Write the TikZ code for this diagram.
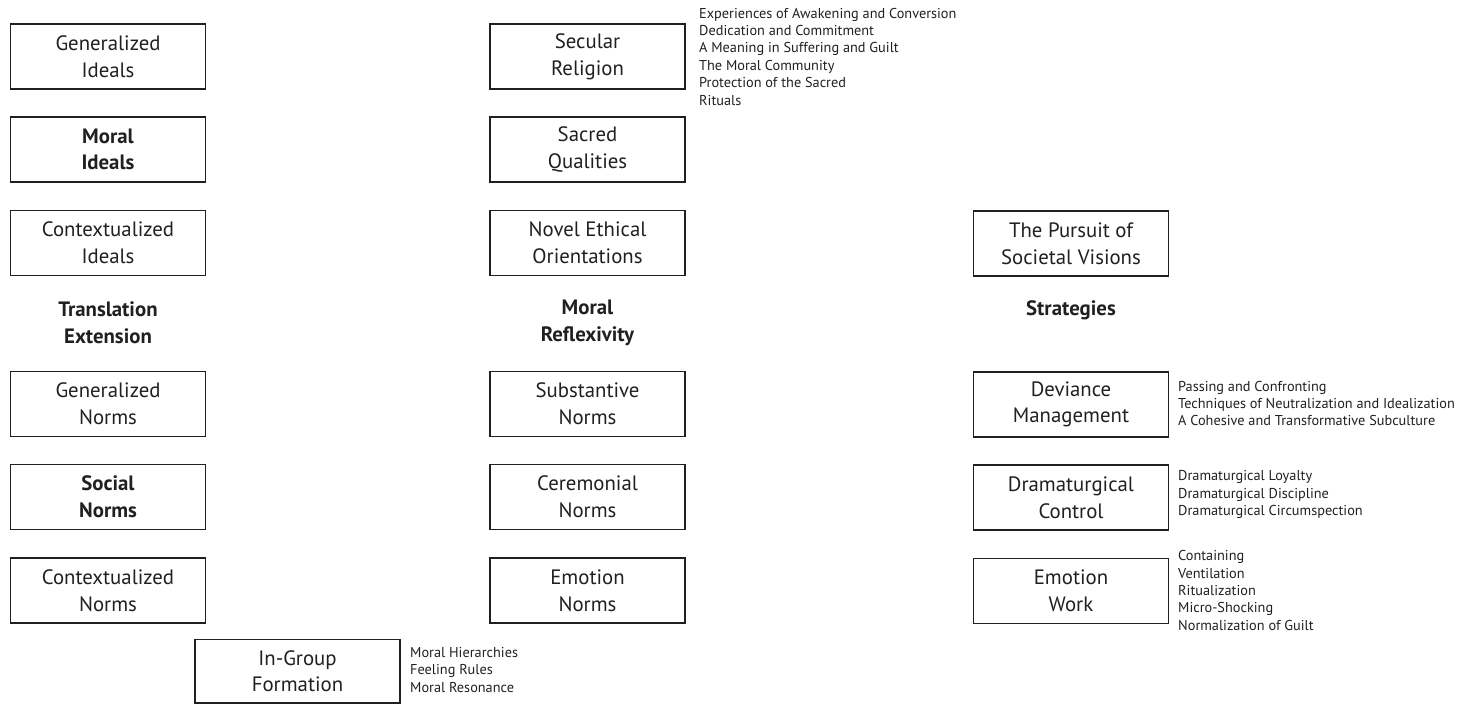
\documentclass[tikz,border=0pt]{standalone}
\usepackage{fontspec}
\setmainfont{PT Sans}
\definecolor{ink}{HTML}{231F20}
\begin{document}
\begin{tikzpicture}[x=1pt,y=-1pt,
  box/.style={draw=ink, line width=1.2pt, minimum width=195pt, minimum height=65pt,
    inner sep=0pt, align=center, text=ink,
    font=\fontsize{20.8}{26.6}\selectfont},
  head/.style={align=center, text=ink, font=\fontsize{20.8}{26.6}\selectfont\bfseries},
  list/.style={anchor=west, align=left, inner sep=0pt, text=ink,
    font=\fontsize{14.3}{17.4}\selectfont}]
\useasboundingbox (0,0) rectangle (1470,704);

% left column
\node[box] (gi) at (108,56.5) {Generalized\\Ideals};
\node[box] (mi) at (108,149.5) {\bfseries Moral\\\bfseries Ideals};
\node[box] (ci) at (108,243) {Contextualized\\Ideals};
\node[head] (te) at (108,323) {Translation\\Extension};
\node[box] (gn) at (108,404) {Generalized\\Norms};
\node[box] (sn) at (108,497) {\bfseries Social\\\bfseries Norms};
\node[box] (cn) at (108,590.5) {Contextualized\\Norms};
\node[box, minimum width=205pt, minimum height=63.5pt] (ig) at (297.5,671.2) {In-Group\\Formation};

% middle column
\node[box] (sr) at (587.5,56.5) {Secular\\Religion};
\node[box] (sq) at (587.5,149.5) {Sacred\\Qualities};
\node[box] (neo) at (587.5,243) {Novel Ethical\\Orientations};
\node[head] (mr) at (587.5,323) {Moral\\Reflexivity};
\node[box] (stn) at (587.5,404) {Substantive\\Norms};
\node[box] (ceN) at (587.5,497) {Ceremonial\\Norms};
\node[box] (en) at (587.5,590.5) {Emotion\\Norms};

% right column
\node[box] (psv) at (1071,243.5) {The Pursuit of\\Societal Visions};
\node[head] (st) at (1071,310) {Strategies};
\node[box] (dm) at (1071,404.5) {Deviance\\Management};
\node[box] (dc) at (1071,497.5) {Dramaturgical\\Control};
\node[box] (ew) at (1071,591) {Emotion\\Work};

% item lists beside the boxes
\node[list] (srl) at (699,56.5) {Experiences of Awakening and Conversion\\Dedication and Commitment\\A Meaning in Suffering and Guilt\\The Moral Community\\Protection of the Sacred\\Rituals};
\node[list] (dml) at (1178,403.5) {Passing and Confronting\\Techniques of Neutralization and Idealization\\A Cohesive and Transformative Subculture};
\node[list] (dcl) at (1178,494.5) {Dramaturgical Loyalty\\Dramaturgical Discipline\\Dramaturgical Circumspection};
\node[list] (ewl) at (1178,590.5) {Containing\\Ventilation\\Ritualization\\Micro-Shocking\\Normalization of Guilt};
\node[list] (igl) at (410,670) {Moral Hierarchies\\Feeling Rules\\Moral Resonance};
\end{tikzpicture}
\end{document}
